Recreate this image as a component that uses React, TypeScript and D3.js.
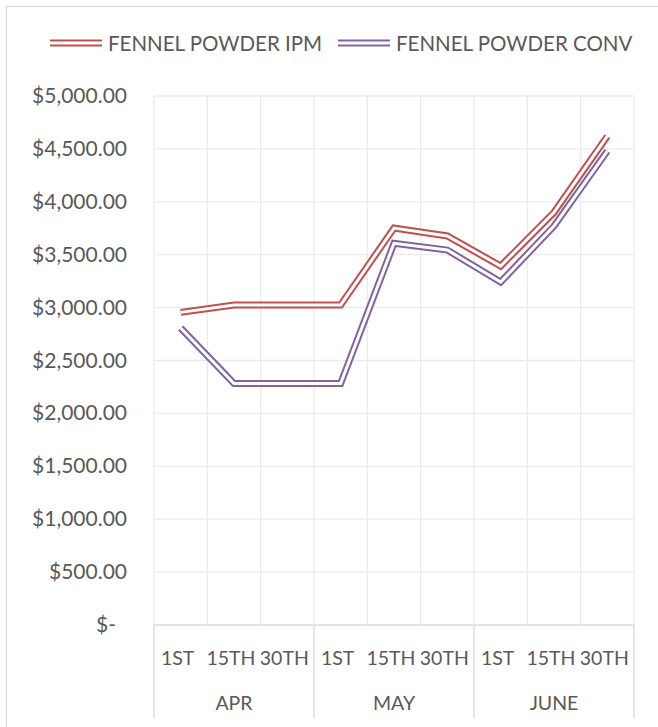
import { useMemo } from 'react'
import { scaleBand, scaleLinear, line } from 'd3'

const months = ['APR', 'MAY', 'JUNE']
const periods = ['1ST', '15TH', '30TH']
const ipm = [2955, 3025, 3025, 3025, 3752, 3677, 3393, 3900, 4620]
const conv = [2807, 2283, 2283, 2283, 3608, 3544, 3242, 3770, 4480]
const yTicks = [0, 500, 1000, 1500, 2000, 2500, 3000, 3500, 4000, 4500, 5000]

const series = [
  { name: 'FENNEL POWDER IPM', values: ipm, color: '#C0504D' },
  { name: 'FENNEL POWDER CONV', values: conv, color: '#8064A2' },
]

const W = 658
const H = 727
const FONT = 'Lato, "Open Sans", sans-serif'
const TEXT = '#595959'
const GRID = '#ebebeb'
const AXIS = '#d9d9d9'

const fmt = (v: number) =>
  v === 0 ? '$-' : '$' + v.toLocaleString('en-US', { minimumFractionDigits: 2, maximumFractionDigits: 2 })

export default function App() {
  const cats = useMemo(() => months.flatMap((m) => periods.map((p) => `${m}|${p}`)), [])

  const x = scaleBand<string>().domain(cats).range([154, 634])
  const y = scaleLinear().domain([0, 5000]).range([625, 96])
  const cx = (i: number) => (x(cats[i]) ?? 0) + x.bandwidth() / 2

  const pathGen = line<number>()
    .x((_, i) => cx(i))
    .y((d) => y(d))

  const monthW = x.bandwidth() * periods.length

  return (
    <svg
      width={W}
      height={H}
      style={{ position: 'absolute', left: 0, top: 0, background: '#fff' }}
      fontFamily={FONT}
    >
      <rect x={6.5} y={6.5} width={W + 10} height={H + 10} fill="#fff" stroke={AXIS} />

      {/* gridlines */}
      {yTicks.map((t) => (
        <line key={t} x1={154} x2={634} y1={y(t)} y2={y(t)} stroke={t === 0 ? AXIS : GRID} strokeWidth={1.3} />
      ))}
      {cats.map((c) => (
        <line key={c} x1={x(c)} x2={x(c)} y1={96} y2={625} stroke={GRID} strokeWidth={1.3} />
      ))}
      <line x1={634} x2={634} y1={96} y2={625} stroke={GRID} strokeWidth={1.3} />

      {/* month separators */}
      {[0, 1, 2, 3].map((i) => (
        <line key={i} x1={154 + i * monthW} x2={154 + i * monthW} y1={625} y2={718} stroke={AXIS} strokeWidth={1.3} />
      ))}

      {/* y labels */}
      {yTicks.map((t) => (
        <text key={t} x={t === 0 ? 116 : 127} y={y(t) + 7} textAnchor="end" fontSize={21} fill={TEXT}>
          {fmt(t)}
        </text>
      ))}

      {/* x labels */}
      {cats.map((c, i) => (
        <text key={c} x={cx(i) - 3} y={665} textAnchor="middle" fontSize={19.5} fill={TEXT}>
          {c.split('|')[1]}
        </text>
      ))}
      {months.map((m, i) => (
        <text key={m} x={154 + (i + 0.5) * monthW} y={710} textAnchor="middle" fontSize={19.5} fill={TEXT}>
          {m}
        </text>
      ))}

      {/* double lines */}
      {series.map((s) => (
        <g key={s.name}>
          <path d={pathGen(s.values) ?? ''} fill="none" stroke={s.color} strokeWidth={7} strokeLinejoin="miter" />
          <path d={pathGen(s.values) ?? ''} fill="none" stroke="#fff" strokeWidth={3} strokeLinejoin="miter" />
        </g>
      ))}

      {/* legend */}
      {series.map((s, i) => {
        const lx = i === 0 ? 50 : 338
        return (
          <g key={s.name}>
            <line x1={lx} x2={lx + 52} y1={43} y2={43} stroke={s.color} strokeWidth={7} />
            <line x1={lx} x2={lx + 52} y1={43} y2={43} stroke="#fff" strokeWidth={3} />
            <text x={lx + 58} y={51} fontSize={20.5} fill={TEXT}>
              {s.name}
            </text>
          </g>
        )
      })}
    </svg>
  )
}
